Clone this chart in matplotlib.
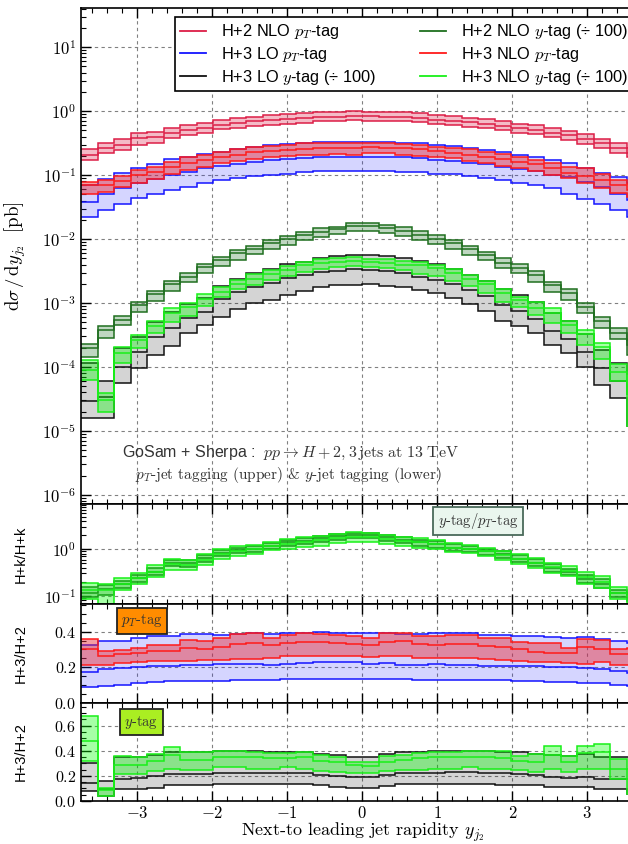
"""
d(sigma)/dy_j2 for pp -> H + 2,3 jets, pT- and y-tagging, with three ratio panels.
"""

import numpy as np
import matplotlib
matplotlib.use("Agg")
import matplotlib.pyplot as plt
from matplotlib.lines import Line2D
from matplotlib.ticker import (MultipleLocator, FixedLocator, FuncFormatter,
                               LogLocator, NullFormatter)

# ---------------------------------------------------------------- binning
Y_MIN, Y_MAX, N_BINS = -3.75, 3.75, 34
EDGES = np.linspace(Y_MIN, Y_MAX, N_BINS + 1)
Y_TAG_SCALE = 100.0   # y-tag curves are drawn divided by 100

# ---------------------------------------------------------------- main panel [pb]
# H+2 NLO, pT-tag
H2_PT_HI = [0.252, 0.320, 0.361, 0.448, 0.475, 0.536, 0.604, 0.657, 0.723, 0.768, 0.815, 0.866,
            0.898, 0.942, 0.965, 0.976, 0.990, 0.985, 0.970, 0.966, 0.937, 0.873, 0.841, 0.788,
            0.743, 0.697, 0.638, 0.604, 0.544, 0.492, 0.432, 0.372, 0.313, 0.263]
H2_PT_MID = [0.210, 0.267, 0.301, 0.374, 0.397, 0.448, 0.505, 0.549, 0.611, 0.649, 0.690, 0.723,
             0.750, 0.787, 0.815, 0.825, 0.845, 0.836, 0.822, 0.819, 0.794, 0.740, 0.713, 0.668,
             0.630, 0.591, 0.541, 0.512, 0.461, 0.417, 0.366, 0.315, 0.265, 0.223]
H2_PT_LO = [0.171, 0.218, 0.246, 0.294, 0.320, 0.374, 0.422, 0.448, 0.517, 0.549, 0.583, 0.604,
            0.626, 0.657, 0.690, 0.698, 0.723, 0.712, 0.699, 0.696, 0.675, 0.629, 0.606, 0.568,
            0.536, 0.502, 0.460, 0.435, 0.392, 0.354, 0.311, 0.268, 0.225, 0.190]

# H+3 LO, pT-tag
H3LO_PT_HI = [0.0698, 0.0866, 0.1087, 0.130, 0.1486, 0.176, 0.189, 0.213, 0.232, 0.255, 0.277, 0.294,
              0.305, 0.313, 0.324, 0.332, 0.332, 0.332, 0.328, 0.320, 0.313, 0.301, 0.284, 0.267,
              0.246, 0.232, 0.205, 0.193, 0.1715, 0.152, 0.127, 0.1087, 0.092, 0.0741]
H3LO_PT_MID = [0.0383, 0.0499, 0.0619, 0.0741, 0.0855, 0.100, 0.1127, 0.127, 0.140, 0.1486, 0.1616,
               0.1715, 0.176, 0.182, 0.193, 0.193, 0.193, 0.193, 0.193, 0.189, 0.182, 0.1715, 0.1656,
               0.156, 0.147, 0.135, 0.1227, 0.1155, 0.100, 0.092, 0.0787, 0.0642, 0.0505, 0.0407]
H3LO_PT_LO = [0.0223, 0.0284, 0.0348, 0.0432, 0.0505, 0.0583, 0.0642, 0.0759, 0.0836, 0.0898, 0.0964,
              0.101, 0.106, 0.111, 0.117, 0.117, 0.117, 0.117, 0.117, 0.1127, 0.110, 0.106, 0.1037,
              0.0964, 0.0908, 0.0836, 0.0741, 0.0698, 0.0619, 0.0505, 0.0422, 0.0352, 0.0284, 0.0223]

# H+3 NLO, pT-tag
H3_PT_HI = [0.0787, 0.0836, 0.0964, 0.1198, 0.135, 0.1616, 0.189, 0.205, 0.232, 0.252, 0.277, 0.284,
            0.294, 0.313, 0.313, 0.320, 0.313, 0.320, 0.320, 0.305, 0.294, 0.277, 0.267, 0.252,
            0.232, 0.213, 0.189, 0.1715, 0.152, 0.135, 0.127, 0.106, 0.0836, 0.0723]
H3_PT_MID = [0.0698, 0.0698, 0.0805, 0.100, 0.1127, 0.135, 0.156, 0.1715, 0.193, 0.210, 0.226, 0.237,
             0.246, 0.255, 0.261, 0.267, 0.261, 0.277, 0.270, 0.261, 0.252, 0.237, 0.223, 0.210,
             0.193, 0.176, 0.1616, 0.147, 0.127, 0.1087, 0.0964, 0.0836, 0.0698, 0.0583]
H3_PT_LO = [0.0505, 0.0549, 0.0642, 0.0759, 0.0855, 0.1037, 0.1198, 0.135, 0.152, 0.1656, 0.178, 0.189,
            0.198, 0.205, 0.210, 0.213, 0.210, 0.218, 0.218, 0.210, 0.200, 0.193, 0.182, 0.1675,
            0.152, 0.140, 0.127, 0.1155, 0.100, 0.0887, 0.0759, 0.0619, 0.0517, 0.0448]

# H+2 NLO, y-tag
H2_Y_HI = [0.0226, 0.0443, 0.0627, 0.105, 0.154, 0.221, 0.298, 0.407, 0.530, 0.673, 0.787, 0.964,
           1.114, 1.27, 1.50, 1.56, 1.80, 1.80, 1.66, 1.52, 1.33, 1.155, 0.964, 0.787,
           0.634, 0.499, 0.402, 0.316, 0.215, 0.164, 0.0989, 0.0611, 0.0402, 0.0264]
H2_Y_MID = [0.0196, 0.0379, 0.0542, 0.0931, 0.138, 0.196, 0.258, 0.370, 0.470, 0.597, 0.698, 0.855,
            0.989, 1.155, 1.30, 1.42, 1.60, 1.60, 1.47, 1.33, 1.155, 1.02, 0.855, 0.690,
            0.562, 0.417, 0.348, 0.274, 0.191, 0.145, 0.0877, 0.0530, 0.0336, 0.0221]
H2_Y_LO = [0.0145, 0.0287, 0.0453, 0.0733, 0.1087, 0.156, 0.215, 0.291, 0.379, 0.470, 0.575, 0.690,
           0.806, 0.964, 1.087, 1.18, 1.35, 1.33, 1.23, 1.114, 0.964, 0.825, 0.690, 0.562,
           0.470, 0.348, 0.291, 0.215, 0.150, 0.111, 0.0690, 0.0412, 0.0270, 0.0154]

# H+3 LO, y-tag
H3LO_Y_HI = [0.0117, 0.0060, 0.0196, 0.0298, 0.0511, 0.0715, 0.0964, 0.118, 0.187, 0.234, 0.291, 0.336,
             0.402, 0.443, 0.499, 0.542, 0.562, 0.562, 0.542, 0.499, 0.453, 0.408, 0.342, 0.276,
             0.225, 0.163, 0.135, 0.102, 0.070, 0.052, 0.0327, 0.0184, 0.0117, 0.0077]
H3LO_Y_MID = [0.0029, 0.00345, 0.0101, 0.0174, 0.0298, 0.0402, 0.0575, 0.0733, 0.115, 0.150, 0.176, 0.208,
              0.243, 0.274, 0.301, 0.320, 0.336, 0.328, 0.316, 0.291, 0.255, 0.232, 0.198, 0.160,
              0.128, 0.092, 0.074, 0.056, 0.037, 0.027, 0.0171, 0.0095, 0.0060, 0.0038]
H3LO_Y_LO = [0.00161, 0.0016, 0.00556, 0.00953, 0.0154, 0.0213, 0.0336, 0.0453, 0.0611, 0.0796, 0.0989,
             0.111, 0.133, 0.156, 0.176, 0.191, 0.191, 0.198, 0.185, 0.176, 0.161, 0.142, 0.119, 0.096,
             0.075, 0.052, 0.0435, 0.034, 0.022, 0.0167, 0.010, 0.0052, 0.0033, 0.0012]

# H+3 NLO, y-tag
H3_Y_HI = [0.0129, 0.00388, 0.0203, 0.0316, 0.0530, 0.0826, 0.101, 0.137, 0.180, 0.229, 0.284, 0.328,
           0.383, 0.443, 0.487, 0.511, 0.518, 0.487, 0.481, 0.458, 0.438, 0.395, 0.335, 0.273,
           0.222, 0.165, 0.125, 0.102, 0.083, 0.052, 0.038, 0.024, 0.0112, 0.0056]
H3_Y_MID = [0.00898, 0.00305, 0.0164, 0.0264, 0.0437, 0.0690, 0.0855, 0.114, 0.150, 0.196, 0.234, 0.284,
            0.328, 0.393, 0.417, 0.443, 0.453, 0.443, 0.417, 0.393, 0.392, 0.354, 0.297, 0.239,
            0.195, 0.141, 0.111, 0.084, 0.070, 0.045, 0.033, 0.0205, 0.0085, 0.0038]
H3_Y_LO = [0.00627, 0.0020, 0.0114, 0.0196, 0.0336, 0.0511, 0.0627, 0.0898, 0.126, 0.164, 0.191, 0.229,
           0.264, 0.309, 0.336, 0.361, 0.379, 0.370, 0.348, 0.328, 0.286, 0.264, 0.221, 0.184,
           0.146, 0.105, 0.086, 0.064, 0.048, 0.034, 0.022, 0.0134, 0.0060, 0.0012]

# ---------------------------------------------------------------- ratio y-tag / pT-tag
R_YPT_H2_HI = [0.153, 0.173, 0.208, 0.278, 0.392, 0.579, 0.600, 0.748, 0.950, 1.09, 1.19, 1.36,
               1.585, 1.73, 1.98, 2.12, 2.27, 2.23, 2.05, 1.88, 1.61, 1.53, 1.29, 1.19,
               1.035, 0.918, 0.736, 0.621, 0.480, 0.372, 0.278, 0.223, 0.134, 0.109]
R_YPT_H2_MID = [0.113, 0.141, 0.176, 0.234, 0.330, 0.505, 0.505, 0.653, 0.843, 0.950, 1.035, 1.19,
                1.41, 1.53, 1.73, 1.91, 2.05, 2.05, 1.82, 1.61, 1.41, 1.29, 1.09, 1.035,
                0.903, 0.774, 0.621, 0.505, 0.392, 0.319, 0.223, 0.182, 0.113, 0.0918]
R_YPT_H2_LO = [0.0918, 0.105, 0.148, 0.198, 0.278, 0.426, 0.412, 0.523, 0.711, 0.815, 0.873, 1.0,
               1.15, 1.29, 1.46, 1.61, 1.73, 1.73, 1.53, 1.36, 1.19, 1.09, 0.918, 0.873,
               0.748, 0.653, 0.523, 0.426, 0.330, 0.278, 0.188, 0.148, 0.0918, 0.0774]
R_YPT_H3_HI = [0.188, 0.182, 0.234, 0.314, 0.449, 0.631, 0.579, 0.774, 1.0, 1.15, 1.23, 1.41,
               1.67, 1.82, 1.98, 2.15, 2.35, 2.27, 2.08, 1.88, 1.73, 1.61, 1.36, 1.23,
               1.09, 0.918, 0.774, 0.653, 0.505, 0.441, 0.330, 0.264, 0.153, 0.125]
R_YPT_H3_MID = [0.129, 0.134, 0.176, 0.234, 0.330, 0.480, 0.449, 0.600, 0.774, 0.918, 1.0, 1.15,
                1.29, 1.46, 1.585, 1.73, 1.82, 1.82, 1.67, 1.53, 1.41, 1.29, 1.09, 1.0,
                0.903, 0.748, 0.621, 0.505, 0.412, 0.341, 0.246, 0.198, 0.113, 0.0918]
R_YPT_H3_LO = [0.0843, 0.0653, 0.134, 0.182, 0.255, 0.360, 0.360, 0.464, 0.621, 0.711, 0.774, 0.950,
               1.0, 1.13, 1.19, 1.36, 1.41, 1.41, 1.29, 1.19, 1.09, 1.0, 0.873, 0.815,
               0.711, 0.600, 0.480, 0.392, 0.314, 0.264, 0.182, 0.148, 0.0843, 0.0676]

# ---------------------------------------------------------------- ratio H+3 / H+2, pT-tag
R_PT_LO_HI = [0.323, 0.347, 0.347, 0.366, 0.375, 0.375, 0.389, 0.389, 0.381, 0.385, 0.394, 0.385,
              0.394, 0.394, 0.398, 0.394, 0.394, 0.394, 0.394, 0.385, 0.385, 0.394, 0.390, 0.390,
              0.381, 0.381, 0.375, 0.375, 0.370, 0.366, 0.370, 0.360, 0.347, 0.338]
R_PT_LO_MID = [0.172, 0.191, 0.196, 0.202, 0.209, 0.209, 0.215, 0.215, 0.219, 0.221, 0.221, 0.215,
               0.221, 0.225, 0.228, 0.228, 0.228, 0.221, 0.225, 0.215, 0.215, 0.219, 0.215, 0.215,
               0.209, 0.209, 0.206, 0.206, 0.200, 0.200, 0.196, 0.191, 0.177, 0.168]
R_PT_LO_LO = [0.092, 0.096, 0.102, 0.111, 0.115, 0.121, 0.125, 0.125, 0.125, 0.130, 0.130, 0.130,
              0.134, 0.134, 0.134, 0.134, 0.134, 0.134, 0.134, 0.134, 0.130, 0.126, 0.126, 0.126,
              0.126, 0.126, 0.121, 0.121, 0.117, 0.117, 0.111, 0.111, 0.102, 0.096]
R_PT_NLO_HI = [0.357, 0.291, 0.296, 0.309, 0.323, 0.323, 0.353, 0.347, 0.366, 0.385, 0.394, 0.366,
               0.381, 0.391, 0.385, 0.379, 0.375, 0.366, 0.391, 0.394, 0.375, 0.375, 0.381, 0.381,
               0.366, 0.366, 0.342, 0.334, 0.338, 0.309, 0.360, 0.353, 0.300, 0.309]
R_PT_NLO_MID = [0.304, 0.266, 0.272, 0.281, 0.291, 0.291, 0.309, 0.300, 0.315, 0.328, 0.338, 0.323,
                0.338, 0.342, 0.342, 0.338, 0.328, 0.323, 0.342, 0.347, 0.328, 0.323, 0.328, 0.328,
                0.319, 0.313, 0.300, 0.285, 0.281, 0.281, 0.313, 0.304, 0.272, 0.272]
R_PT_NLO_LO = [0.215, 0.215, 0.225, 0.228, 0.234, 0.234, 0.234, 0.240, 0.243, 0.247, 0.247, 0.253,
               0.262, 0.262, 0.266, 0.266, 0.266, 0.258, 0.262, 0.266, 0.253, 0.253, 0.253, 0.253,
               0.247, 0.243, 0.234, 0.228, 0.228, 0.225, 0.221, 0.228, 0.215, 0.215]

# ---------------------------------------------------------------- ratio H+3 / H+2, y-tag
R_Y_LO_HI = [0.301, 0.160, 0.347, 0.347, 0.365, 0.392, 0.392, 0.387, 0.400, 0.400, 0.400, 0.392,
             0.392, 0.392, 0.373, 0.365, 0.347, 0.347, 0.373, 0.392, 0.392, 0.400, 0.400, 0.400,
             0.400, 0.392, 0.387, 0.373, 0.365, 0.360, 0.373, 0.347, 0.347, 0.347]
R_Y_LO_MID = [0.147, 0.093, 0.179, 0.187, 0.200, 0.213, 0.213, 0.213, 0.227, 0.227, 0.227, 0.221,
              0.221, 0.221, 0.205, 0.200, 0.195, 0.195, 0.205, 0.221, 0.221, 0.227, 0.232, 0.232,
              0.227, 0.221, 0.213, 0.205, 0.195, 0.187, 0.195, 0.179, 0.179, 0.173]
R_Y_LO_LO = [0.080, 0.040, 0.099, 0.099, 0.107, 0.125, 0.125, 0.125, 0.139, 0.139, 0.139, 0.139,
             0.139, 0.139, 0.125, 0.115, 0.107, 0.107, 0.120, 0.133, 0.139, 0.139, 0.139, 0.139,
             0.133, 0.125, 0.125, 0.125, 0.115, 0.115, 0.115, 0.099, 0.099, 0.053]
R_Y_NLO_HI = [0.680, 0.107, 0.355, 0.347, 0.373, 0.427, 0.387, 0.387, 0.400, 0.400, 0.392, 0.379,
              0.379, 0.387, 0.365, 0.347, 0.312, 0.312, 0.355, 0.365, 0.379, 0.387, 0.392, 0.395,
              0.395, 0.395, 0.360, 0.373, 0.435, 0.360, 0.435, 0.453, 0.333, 0.253]
R_Y_NLO_MID = [0.475, 0.088, 0.288, 0.288, 0.320, 0.368, 0.328, 0.328, 0.347, 0.347, 0.347, 0.339,
               0.339, 0.347, 0.320, 0.307, 0.285, 0.280, 0.307, 0.325, 0.339, 0.347, 0.347, 0.347,
               0.347, 0.339, 0.320, 0.307, 0.365, 0.312, 0.381, 0.387, 0.253, 0.173]
R_Y_NLO_LO = [0.320, 0.040, 0.213, 0.213, 0.240, 0.253, 0.248, 0.248, 0.267, 0.267, 0.259, 0.253,
              0.267, 0.259, 0.240, 0.232, 0.221, 0.221, 0.240, 0.248, 0.248, 0.259, 0.259, 0.267,
              0.259, 0.253, 0.248, 0.232, 0.253, 0.232, 0.253, 0.253, 0.179, 0.053]

# ---------------------------------------------------------------- colours
C_H2PT = "#dc1e46"
C_H3LOPT = "#1414ff"
C_H3PT = "#ff1a1a"
C_H2Y = "#1f6f1f"
C_H3LOY = "#111111"
C_H3Y = "#18f018"

SERIF = "cmr10"

plt.rcParams.update({
    "font.family": ["Liberation Sans", "DejaVu Sans"],
    "mathtext.fontset": "cm",
    "axes.linewidth": 1.2,
    "axes.unicode_minus": False,
})


def draw_band(ax, lo, mid, hi, line, fill, alpha, scale=1.0, lw=1.1):
    lo, mid, hi = (np.asarray(v) / scale for v in (lo, mid, hi))
    ax.stairs(hi, EDGES, baseline=lo, fill=True, color=fill, alpha=alpha, lw=0)
    for v in (lo, mid, hi):
        ax.stairs(v, EDGES, baseline=None, color=line, lw=lw)


def style_axis(ax, labelsize=12):
    ax.set_xlim(Y_MIN, Y_MAX)
    ax.xaxis.set_major_locator(MultipleLocator(1))
    ax.xaxis.set_minor_locator(MultipleLocator(0.2))
    ax.tick_params(which="both", direction="in", top=True, right=True, labelsize=labelsize)
    ax.tick_params(which="major", length=7, width=1.0)
    ax.tick_params(which="minor", length=3.5, width=0.8)
    ax.grid(True, which="major", ls=(0, (3, 3)), color="0.5", lw=0.8)
    ax.set_axisbelow(True)
    ax.xaxis.set_major_formatter(FuncFormatter(lambda v, p: rf"${v:g}$"))


def decade_fmt(v, p):
    return rf"$10^{{{int(round(np.log10(v)))}}}$"


def lin_fmt(v, p):
    return rf"${v:.1f}$"


def tag_box(ax, x, y, text, face, edge):
    ax.text(x, y, text, transform=ax.transAxes, ha="center", va="center",
            fontsize=10.5, family=SERIF, color="0.2", zorder=10,
            bbox=dict(boxstyle="square,pad=0.3", facecolor=face, edgecolor=edge, lw=1.3))


fig = plt.figure(figsize=(6.28, 8.44), dpi=100)
left, width = 0.129, 0.8957
ax_main = fig.add_axes([left, 0.4028, width, 0.5877])
ax_r1 = fig.add_axes([left, 0.2844, width, 0.1185])
ax_r2 = fig.add_axes([left, 0.1671, width, 0.1173])
ax_r3 = fig.add_axes([left, 0.0509, width, 0.1161])

style_axis(ax_main)
for ax in (ax_r1, ax_r2, ax_r3):
    style_axis(ax, labelsize=11.5)
for ax in (ax_main, ax_r1, ax_r2):
    ax.tick_params(labelbottom=False)
ax_r3.tick_params(axis="x", labelsize=12, pad=3)

# ---- main panel
draw_band(ax_main, H2_PT_LO, H2_PT_MID, H2_PT_HI, C_H2PT, C_H2PT, 0.3)
draw_band(ax_main, H3LO_PT_LO, H3LO_PT_MID, H3LO_PT_HI, C_H3LOPT, "#1a1aff", 0.18)
draw_band(ax_main, H3_PT_LO, H3_PT_MID, H3_PT_HI, C_H3PT, "#eb2832", 0.45)
draw_band(ax_main, H2_Y_LO, H2_Y_MID, H2_Y_HI, C_H2Y, "#2e7d32", 0.3, scale=Y_TAG_SCALE)
draw_band(ax_main, H3LO_Y_LO, H3LO_Y_MID, H3LO_Y_HI, C_H3LOY, "#000000", 0.17, scale=Y_TAG_SCALE)
draw_band(ax_main, H3_Y_LO, H3_Y_MID, H3_Y_HI, C_H3Y, "#00ff00", 0.35, scale=Y_TAG_SCALE)

ax_main.set_yscale("log")
ax_main.set_ylim(7.2e-7, 41)
ax_main.yaxis.set_major_locator(LogLocator(base=10, numticks=20))
ax_main.yaxis.set_minor_locator(LogLocator(base=10, subs=np.arange(2, 10), numticks=20))
ax_main.yaxis.set_major_formatter(FuncFormatter(decade_fmt))
ax_main.yaxis.set_minor_formatter(NullFormatter())
ax_main.set_ylabel(r"$\mathrm{d}\sigma\,/\,\mathrm{d}y_{j_2}\ \ [\mathrm{pb}]$", fontsize=13.5)
ax_main.yaxis.set_label_coords(-0.095, 0.5)

handles = [
    Line2D([], [], color=C_H2PT, lw=1.3, label=r"H+2 NLO $p_T$-tag"),
    Line2D([], [], color=C_H3LOPT, lw=1.3, label=r"H+3 LO $p_T$-tag"),
    Line2D([], [], color=C_H3LOY, lw=1.3, label=r"H+3 LO $y$-tag (÷ 100)"),
    Line2D([], [], color=C_H2Y, lw=1.3, label=r"H+2 NLO $y$-tag (÷ 100)"),
    Line2D([], [], color=C_H3PT, lw=1.3, label=r"H+3 NLO $p_T$-tag"),
    Line2D([], [], color=C_H3Y, lw=1.3, label=r"H+3 NLO $y$-tag (÷ 100)"),
]
leg = ax_main.legend(handles=handles, ncol=2, loc="upper left", bbox_to_anchor=(0.167, 0.981),
                     fontsize=11.8, frameon=True, fancybox=False, edgecolor="black",
                     framealpha=1, borderaxespad=0, handlelength=1.6, handletextpad=0.9,
                     columnspacing=2.7, labelspacing=0.22, borderpad=0.3)
leg.get_frame().set_linewidth(1.2)

ax_main.text(0.372, 0.103, r"GoSam + Sherpa :  $pp \to H+2,3\,\mathrm{jets\ at\ 13\ TeV}$",
             transform=ax_main.transAxes, ha="center", va="center", fontsize=11.5, color="0.2")
ax_main.text(0.368, 0.058, r"$p_T$-jet tagging (upper) & $y$-jet tagging (lower)",
             transform=ax_main.transAxes, ha="center", va="center", fontsize=11,
             family=SERIF, color="0.2")

# ---- ratio y-tag / pT-tag
draw_band(ax_r1, R_YPT_H2_LO, R_YPT_H2_MID, R_YPT_H2_HI, C_H2Y, "#2e7d32", 0.3)
draw_band(ax_r1, R_YPT_H3_LO, R_YPT_H3_MID, R_YPT_H3_HI, C_H3Y, "#00ff00", 0.35)
ax_r1.set_yscale("log")
ax_r1.set_ylim(0.066, 9.5)
ax_r1.yaxis.set_major_locator(FixedLocator([0.1, 1.0]))
ax_r1.yaxis.set_minor_locator(LogLocator(base=10, subs=np.arange(2, 10), numticks=20))
ax_r1.yaxis.set_major_formatter(FuncFormatter(decade_fmt))
ax_r1.yaxis.set_minor_formatter(NullFormatter())
ax_r1.set_ylabel("H+k/H+k", fontsize=10.5)
tag_box(ax_r1, 0.706, 0.83, r"$y$-tag$/p_T$-tag", "#eaf6ee", "#4a6a5a")

# ---- ratio H+3 / H+2, pT-tag
draw_band(ax_r2, R_PT_LO_LO, R_PT_LO_MID, R_PT_LO_HI, C_H3LOPT, "#1a1aff", 0.18)
draw_band(ax_r2, R_PT_NLO_LO, R_PT_NLO_MID, R_PT_NLO_HI, C_H3PT, "#eb2832", 0.45)
ax_r2.set_ylim(0, 0.555)
ax_r2.yaxis.set_major_locator(MultipleLocator(0.2))
ax_r2.yaxis.set_minor_locator(MultipleLocator(0.05))
ax_r2.yaxis.set_major_formatter(FuncFormatter(lin_fmt))
ax_r2.set_ylabel("H+3/H+2", fontsize=10.5)
tag_box(ax_r2, 0.108, 0.828, r"$p_T$-tag", "#ff8c00", "#222222")

# ---- ratio H+3 / H+2, y-tag
draw_band(ax_r3, R_Y_LO_LO, R_Y_LO_MID, R_Y_LO_HI, C_H3LOY, "#000000", 0.17)
draw_band(ax_r3, R_Y_NLO_LO, R_Y_NLO_MID, R_Y_NLO_HI, C_H3Y, "#00ff00", 0.35)
ax_r3.set_ylim(0, 0.78)
ax_r3.yaxis.set_major_locator(MultipleLocator(0.2))
ax_r3.yaxis.set_minor_locator(MultipleLocator(0.05))
ax_r3.yaxis.set_major_formatter(FuncFormatter(lin_fmt))
ax_r3.set_ylabel("H+3/H+2", fontsize=10.5)
tag_box(ax_r3, 0.107, 0.806, r"$y$-tag", "#aaee22", "#222222")
ax_r3.set_xlabel(r"Next-to leading jet rapidity $y_{j_2}$", fontsize=13, family=SERIF,
                 labelpad=0)

for ax in (ax_r1, ax_r2, ax_r3):
    ax.yaxis.set_label_coords(-0.095, 0.5)

fig.savefig("out.png", dpi=100)
